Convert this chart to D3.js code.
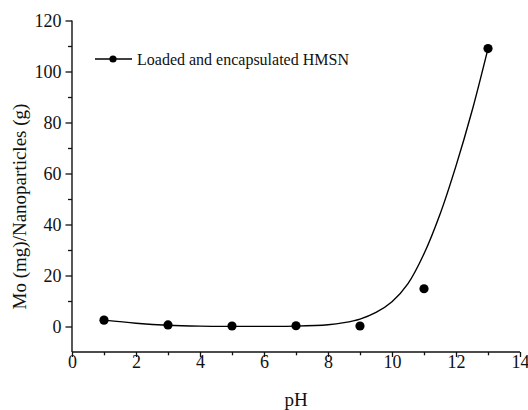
<!DOCTYPE html>
<html>
<head>
<meta charset="utf-8">
<script src="https://cdn.jsdelivr.net/npm/d3@7"></script>
</head>
<body style="margin:0">
<svg id="chart" width="528" height="410"></svg>
<script>
// ---- data ----
const pH = [1, 3, 5, 7, 9, 11, 13];
const moLoad = [2.5, 0.6, 0.2, 0.3, 0.2, 14.8, 109];
// fitted curve as drawn in the reference
const fitX = [1, 2, 3, 4, 5, 6, 7, 8, 8.5, 9, 9.5, 10, 10.5, 11, 11.5, 12, 12.5, 13];
const fitY = [2.5, 1.3, 0.5, 0.15, 0.05, 0.05, 0.15, 0.7, 1.5, 2.9, 5.5, 9.7, 16.8, 28.5, 44, 63, 84.5, 109];
const xTicks = [0, 2, 4, 6, 8, 10, 12, 14];
const xMinor = [1, 3, 5, 7, 9, 11, 13];
const yTicks = [0, 20, 40, 60, 80, 100, 120];
const yMinor = [10, 30, 50, 70, 90, 110];
const seriesName = "Loaded and encapsulated HMSN";
const xTitle = "pH";
const yTitle = "Mo (mg)/Nanoparticles (g)";

const FONT = "Liberation Serif";
const svg = d3.select("#chart");
const m = { left: 72, right: 8, top: 20.5, bottom: 58 };
const W = 528, H = 410;
const x = d3.scaleLinear().domain([0, 14]).range([m.left, W - m.right]);
const y = d3.scaleLinear().domain([-10, 120]).range([H - m.bottom, m.top]);

// x axis
const gx = svg.append("g").attr("transform", `translate(0,${y(-10)})`);
gx.call(d3.axisBottom(x).tickValues(xTicks).tickSize(5).tickPadding(-2).tickFormat(d3.format("d")));
gx.append("g").call(d3.axisBottom(x).tickValues(xMinor).tickSize(3.3).tickFormat(""))
  .select(".domain").remove();

// y axis
const gy = svg.append("g").attr("transform", `translate(${x(0)},0)`);
gy.call(d3.axisLeft(y).tickValues(yTicks).tickSize(6.5).tickPadding(4).tickFormat(d3.format("d")));
gy.append("g").call(d3.axisLeft(y).tickValues(yMinor).tickSize(4).tickFormat(""))
  .select(".domain").remove();

svg.selectAll("g").attr("font-family", FONT).attr("font-size", 18);
svg.selectAll(".tick text").attr("font-family", FONT).attr("font-size", 18).attr("fill", "#111");
svg.selectAll(".domain").attr("stroke", "#111").attr("stroke-width", 1.4);
svg.selectAll(".tick line").attr("stroke", "#111").attr("stroke-width", 1.3);
gy.select(".domain").attr("d", `M0,${y(120)}V${y(-10)}`);
gx.select(".domain").attr("d", `M${x(0)},0H${x(14)}`);

// fitted curve
const line = d3.line().x((d, i) => x(fitX[i])).y(d => y(d)).curve(d3.curveCatmullRom.alpha(0.5));
svg.append("path").datum(fitY).attr("d", line)
  .attr("fill", "none").attr("stroke", "#000").attr("stroke-width", 1.4);

// points
svg.append("g").selectAll("circle").data(moLoad).join("circle")
  .attr("cx", (d, i) => x(pH[i])).attr("cy", d => y(d)).attr("r", 4.6).attr("fill", "#000");

// legend
const lg = svg.append("g");
lg.append("line").attr("x1", 95).attr("x2", 132).attr("y1", 59).attr("y2", 59)
  .attr("stroke", "#000").attr("stroke-width", 1.4);
lg.append("circle").attr("cx", 113).attr("cy", 59).attr("r", 3.6).attr("fill", "#000");
lg.append("text").attr("x", 137).attr("y", 64.5).attr("font-family", FONT)
  .attr("font-size", 16).attr("fill", "#111").text(seriesName);

// axis titles
svg.append("text").attr("x", (x(0) + x(14)) / 2).attr("y", 406)
  .attr("text-anchor", "middle").attr("font-family", FONT).attr("font-size", 19)
  .attr("fill", "#111").text(xTitle);
svg.append("text").attr("transform", "translate(26,206.5) rotate(-90)")
  .attr("text-anchor", "middle").attr("font-family", FONT).attr("font-size", 19)
  .attr("fill", "#111").text(yTitle);
</script>
</body>
</html>
